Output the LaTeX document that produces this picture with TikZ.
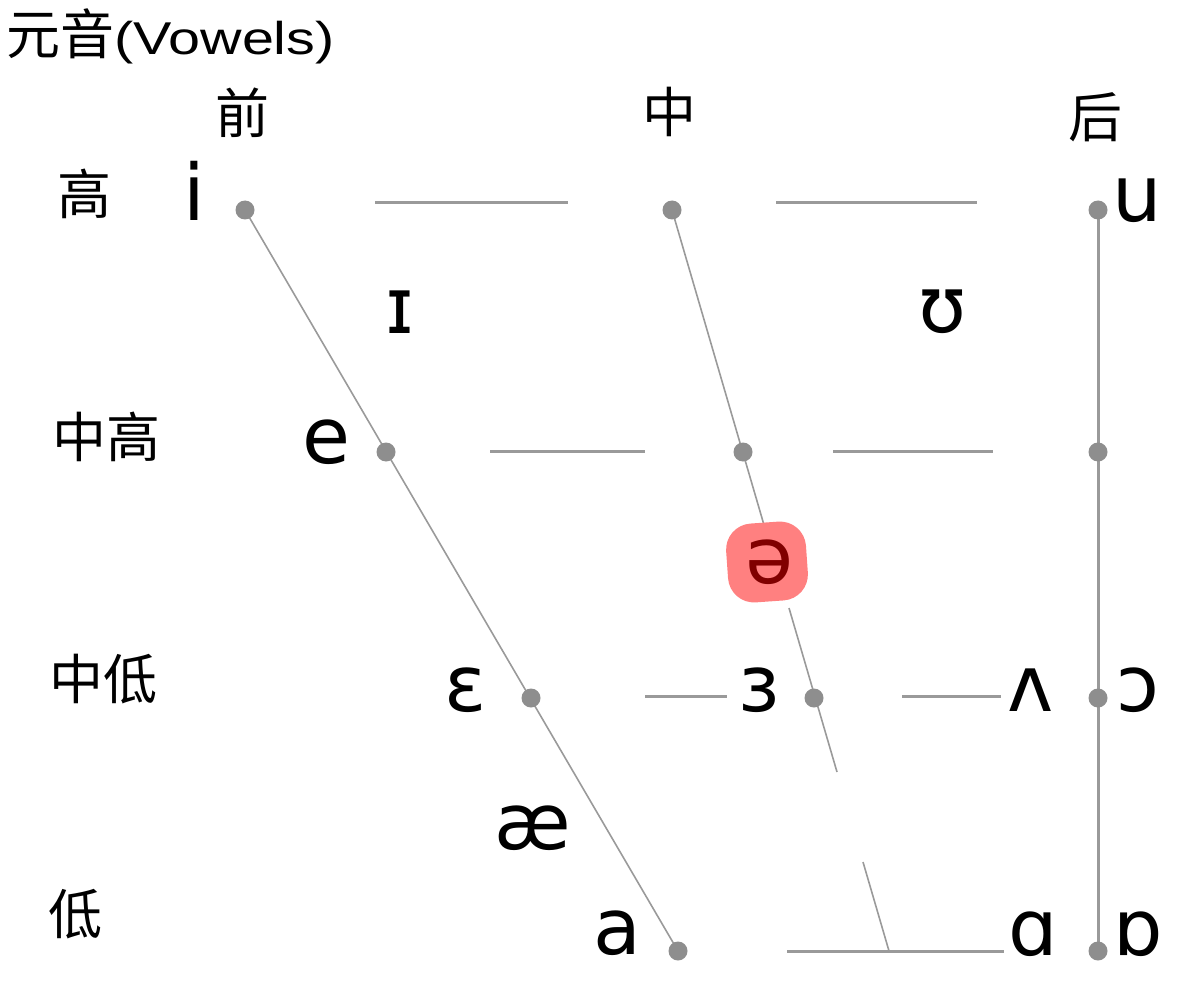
\documentclass[tikz,border=0pt]{standalone}
\usepackage{graphicx}
\usepackage{fontspec}
\setmainfont{DejaVu Sans}
\newfontfamily\cjkfont{Noto Sans CJK SC}
\newfontfamily\ipafont{DejaVu Sans}
\newfontfamily\latinfont{Liberation Sans}
\definecolor{linegray}{HTML}{9A9A9A}
\definecolor{dotgray}{HTML}{8E8E8E}
\definecolor{schwared}{HTML}{800000}
\definecolor{highlight}{HTML}{FF8080}
\tikzset{
  cjklabel/.style={inner sep=0pt, font=\cjkfont\fontsize{54}{60}\selectfont, text=black},
  ipa/.style={inner sep=0pt, font=\ipafont\fontsize{78}{86}\selectfont, text=black},
  vdot/.style={circle, fill=dotgray, draw=none, minimum size=19pt, inner sep=0pt},
  gridline/.style={draw=linegray, line width=3pt},
  slantline/.style={draw=linegray, line width=1.6pt},
  backline/.style={draw=linegray, line width=3pt},
  hlblob/.style={fill=highlight, rounded corners=26pt, minimum width=80pt, minimum height=79pt, inner sep=0pt, rotate=4},
}
\begin{document}
\begin{tikzpicture}[x=1pt, y=-1pt]
\useasboundingbox (0,0) rectangle (1182,984);

% title and axis labels
\node[cjklabel, anchor=west] (title) at (6,36) {元音\scalebox{1.25}[1]{\latinfont\fontsize{46}{50}\selectfont(Vowels)}};
\node[cjklabel] (front) at (242,113) {前};
\node[cjklabel] (central) at (669,112) {中};
\node[cjklabel] (back) at (1095,117) {后};
\node[cjklabel] (high) at (84,194) {高};
\node[cjklabel] (midhigh) at (106,437) {中高};
\node[cjklabel] (midlow) at (103,679) {中低};
\node[cjklabel] (low) at (75,914) {低};

% coordinates for the grid
\coordinate (d11) at (245,210);
\coordinate (d12) at (672,210);
\coordinate (d13) at (1098,210);
\coordinate (d21) at (386,452);
\coordinate (d22) at (743,452);
\coordinate (d23) at (1098,452);
\coordinate (d31) at (531,698);
\coordinate (d32) at (814,698);
\coordinate (d33) at (1098,698);
\coordinate (d41) at (678,951);
\coordinate (d43) at (1098,951);
\coordinate (cend) at (889,951);
\coordinate (g1) at (764,525);
\coordinate (g2) at (789,608);
\coordinate (g3) at (837,772);
\coordinate (g4) at (863,862);

% horizontal segments
\coordinate (h1a) at (375,203); \coordinate (h1b) at (568,203);
\coordinate (h1c) at (776,203); \coordinate (h1d) at (977,203);
\coordinate (h2a) at (490,451); \coordinate (h2b) at (645,451);
\coordinate (h2c) at (833,451); \coordinate (h2d) at (993,451);
\coordinate (h3a) at (645,696); \coordinate (h3b) at (727,696);
\coordinate (h3c) at (902,696); \coordinate (h3d) at (1001,696);
\coordinate (h4a) at (787,951); \coordinate (h4b) at (1004,951);

\draw[gridline] (h1a) -- (h1b);
\draw[gridline] (h1c) -- (h1d);
\draw[gridline] (h2a) -- (h2b);
\draw[gridline] (h2c) -- (h2d);
\draw[gridline] (h3a) -- (h3b);
\draw[gridline] (h3c) -- (h3d);
\draw[gridline] (h4a) -- (h4b);

% slanted lines
\draw[slantline] (d11) -- (d41);
\draw[slantline] (d12) -- (g1);
\draw[slantline] (g2) -- (g3);
\draw[slantline] (g4) -- (cend);

% back vertical line
\draw[backline] (d13) -- (d43);

% dots
\foreach \p in {d11,d12,d13,d21,d22,d23,d31,d32,d33,d41,d43}
  \node[vdot] (dot-\p) at (\p) {};

% vowel symbols
\node[ipa] (vi) at (194,191) {i};
\node[ipa] (vI) at (400,312) {ɪ};
\node[ipa] (vU) at (943,312) {ʊ};
\node[ipa] (vu) at (1137,200) {u};
\node[ipa] (ve) at (326,442) {e};
\node[hlblob] (hl) at (767,562) {};
\node[ipa, text=schwared] (vschwa) at (769,562) {ə};
\node[ipa] (veps) at (466,690) {ɛ};
\node[ipa] (vrev) at (759,690) {ɜ};
\node[ipa] (vwedge) at (1031,690) {ʌ};
\node[ipa] (vopeno) at (1138,690) {ɔ};
\node[ipa] (vae) at (533,828) {æ};
\node[ipa] (va) at (617,933) {a};
\node[ipa] (vscripta) at (1033,934) {ɑ};
\node[ipa] (vturned) at (1138,934) {ɒ};
\end{tikzpicture}
\end{document}
